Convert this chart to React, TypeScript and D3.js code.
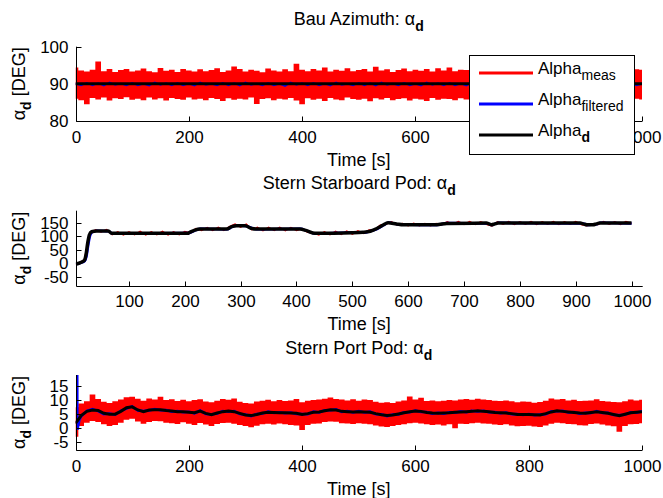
import React from 'react';
import * as d3 from 'd3';

const W = 663;
const H = 498;
const FONT = '"Liberation Sans", Arial, Helvetica, sans-serif';

// sample times (s)
const STEP_TIMES = d3.range(0, 1001, 10);

// ---------- Bau Azimuth ----------
const bauXTicks = [0, 200, 400, 600, 800, 1000];
const bauYTicks = [80, 90, 100];
const bauMeasHi = [
  94.4, 93.6, 93.3, 93.8, 96.0, 93.4, 94.0, 93.2, 93.7, 94.0,
  93.3, 93.6, 94.1, 93.4, 93.1, 94.3, 93.5, 93.8, 93.2, 94.0,
  93.6, 93.3, 93.9, 93.4, 93.7, 94.2, 93.2, 93.6, 94.7, 94.0,
  93.3, 93.8, 93.5, 93.1, 94.1, 93.6, 93.3, 93.9, 93.4, 95.4,
  93.8, 93.4, 94.0, 93.6, 94.4, 93.3, 93.8, 93.5, 94.2, 93.4,
  93.7, 94.0, 93.3, 94.6, 93.6, 93.9, 93.2, 93.7, 94.1, 93.4,
  93.8, 93.5, 94.0, 93.3, 94.2, 93.6, 94.4, 93.4, 93.8, 93.7,
  94.1, 93.5, 93.9, 93.3, 93.8, 93.6, 94.0, 93.4, 94.2, 93.5,
  93.8, 93.3, 94.1, 93.6, 93.9, 93.4, 94.3, 93.7, 94.0, 93.5,
  93.8, 93.4, 94.1, 93.6, 93.9, 93.3, 94.0, 93.7, 94.4, 93.9, 93.8,
];
const bauMeasLo = [
  86.0, 85.6, 84.5, 86.2, 85.8, 86.3, 85.5, 86.1, 85.9, 86.4,
  85.7, 86.0, 85.6, 86.3, 85.8, 86.1, 85.5, 86.2, 85.9, 85.7,
  86.3, 85.8, 86.0, 85.6, 86.2, 85.9, 85.4, 86.1, 85.7, 86.0,
  85.8, 86.3, 84.6, 85.9, 86.1, 85.6, 86.0, 85.8, 86.2, 85.5,
  84.5, 86.1, 85.7, 86.0, 85.4, 86.2, 85.8, 85.6, 86.3, 85.9,
  85.7, 86.0, 85.3, 86.1, 85.8, 86.2, 85.6, 85.9, 86.1, 85.5,
  86.0, 85.8, 85.4, 86.2, 85.7, 86.0, 85.9, 85.6, 86.1, 85.8,
  86.2, 85.6, 85.9, 86.1, 85.5, 86.0, 85.7, 86.3, 85.8, 85.6,
  86.1, 85.9, 85.5, 86.2, 85.8, 86.0, 85.6, 86.3, 85.7, 85.9,
  86.1, 85.5, 86.0, 85.8, 86.2, 85.6, 85.9, 86.1, 85.7, 86.0, 85.8,
];
const bauFilt = [
  90.0, 89.6, 90.3, 89.6, 90.2, 89.5, 90.4, 89.7, 90.1, 89.6,
  90.3, 89.6, 90.0, 89.5, 90.4, 89.7, 90.2, 89.6, 90.3, 89.6,
  90.1, 89.5, 90.4, 89.7, 90.0, 89.6, 90.3, 89.6, 90.2, 89.5,
  90.4, 89.7, 90.1, 89.6, 90.3, 89.6, 90.0, 89.4, 90.4, 89.7,
  90.2, 89.6, 90.3, 89.6, 90.1, 89.5, 90.4, 89.7, 90.0, 89.6,
  90.3, 89.6, 90.2, 89.5, 90.4, 89.7, 90.1, 89.6, 90.3, 89.6,
  90.0, 89.5, 90.4, 89.7, 90.2, 89.6, 90.3, 89.6, 90.1, 89.5,
  90.4, 89.7, 90.0, 89.6, 90.3, 89.6, 90.2, 89.5, 90.4, 89.7,
  90.1, 89.6, 90.3, 89.6, 90.0, 89.5, 90.4, 89.7, 90.2, 89.6,
  90.3, 89.6, 90.1, 89.5, 90.4, 89.7, 90.0, 89.6, 90.3, 89.6, 90.0,
];
const bauDesT = [0, 1000];
const bauDesV = [90, 90];

// ---------- Stern Starboard Pod ----------
const sbXTicks = [100, 200, 300, 400, 500, 600, 700, 800, 900, 1000];
const sbYTicks = [-50, 0, 50, 100, 150];
const sbDesT = [5, 12, 20, 23, 26, 29, 33, 42, 63, 69, 205, 209, 218, 227, 275, 284, 293, 308, 320, 329, 406, 418, 433, 500, 519, 532, 544, 555, 564, 579, 591, 651, 669, 740, 745, 749, 755, 761, 908, 914, 920, 931, 937, 943, 1000];
const sbDesV = [-3, 2, 10, 31, 74, 105, 117, 120, 120, 111, 111, 115, 123, 127, 127, 136, 139, 139, 129, 127, 127, 121, 111, 113, 115, 119, 129, 142, 150, 146, 143, 143, 148, 149, 146, 143, 146, 149, 149, 146, 143, 143, 146, 149, 149];
const sbFiltT = [5, 13, 21, 24, 27, 30, 34, 43, 64, 70, 206, 210, 219, 228, 276, 285, 294, 309, 321, 330, 407, 419, 434, 501, 520, 533, 545, 556, 565, 580, 592, 652, 670, 741, 746, 750, 756, 762, 909, 915, 921, 932, 938, 944, 1000];
const sbFiltV = [-4, 1, 8, 26, 66, 100, 115, 121, 119, 110, 112, 114, 122, 128, 126, 135, 140, 138, 130, 126, 128, 120, 110, 114, 114, 120, 128, 141, 151, 145, 144, 142, 149, 148, 145, 142, 147, 150, 148, 147, 142, 144, 145, 150, 148];
const sbMeasT = [5, ...STEP_TIMES.slice(1)];
const sbMeasV = [
  -6, 0, 13, 108, 124, 116, 125, 106, 117, 105,
  117, 106, 118, 105, 117, 106, 118, 105, 117, 106,
  118, 112, 129, 122, 132, 122, 133, 122, 136, 145,
  134, 145, 125, 133, 121, 133, 122, 133, 121, 132,
  122, 128, 115, 113, 105, 117, 106, 118, 107, 119,
  108, 120, 111, 123, 123, 141, 145, 154, 142, 147,
  139, 148, 139, 147, 139, 147, 143, 154, 145, 155,
  144, 155, 144, 154, 145, 139, 154, 145, 155, 144,
  154, 145, 155, 144, 154, 145, 155, 144, 154, 145,
  155, 144, 139, 147, 144, 155, 145, 154, 144, 155, 148,
];

// ---------- Stern Port Pod ----------
const portXTicks = [0, 200, 400, 600, 800, 1000];
const portYTicks = [-5, 0, 5, 10, 15];
const portDesV = [
  1.7, 4.5, 6.0, 6.5, 6.3, 5.3, 5.0, 5.0, 6.0, 7.3,
  7.6, 6.5, 5.9, 6.5, 6.6, 6.6, 6.3, 6.1, 5.9, 5.9,
  5.7, 5.5, 6.1, 5.3, 4.8, 5.4, 5.9, 6.1, 5.9, 5.3,
  4.7, 4.5, 4.9, 5.4, 5.7, 5.6, 5.5, 5.5, 5.4, 5.3,
  4.9, 5.2, 5.7, 5.8, 6.2, 6.6, 6.5, 6.0, 5.9, 5.8,
  5.9, 5.8, 5.7, 5.2, 4.8, 4.5, 4.7, 5.1, 5.5, 5.9,
  6.1, 6.0, 5.6, 5.4, 5.3, 5.4, 5.5, 5.7, 5.8, 5.9,
  6.0, 6.2, 6.0, 5.9, 5.6, 5.5, 5.4, 5.2, 4.9, 4.9,
  4.9, 4.8, 4.7, 5.2, 5.8, 6.2, 6.0, 5.8, 5.6, 5.4,
  5.3, 5.6, 5.9, 5.6, 5.3, 4.9, 4.5, 5.0, 5.5, 5.7, 5.9,
];
const portFiltT = [3, 3.2, 3.4, 7, ...STEP_TIMES.slice(1)];
const portFiltV = [
  30, 10, -0.5, 3.0,
  4.2, 6.2, 6.8, 6.1, 5.0, 5.2, 4.8, 6.2, 7.0,
  7.8, 6.3, 6.1, 6.3, 6.8, 6.4, 6.5, 5.9, 6.1, 5.7,
  5.9, 5.3, 6.3, 5.1, 5.0, 5.2, 6.1, 5.9, 6.1, 5.1,
  4.9, 4.3, 5.1, 5.2, 5.9, 5.4, 5.7, 5.3, 5.6, 5.1,
  5.1, 5.0, 5.9, 5.6, 6.4, 6.4, 6.7, 5.8, 6.1, 5.6,
  6.1, 5.6, 5.9, 5.0, 5.0, 4.3, 4.9, 4.9, 5.7, 5.7,
  6.3, 5.8, 5.8, 5.2, 5.5, 5.2, 5.7, 5.5, 6.0, 5.7,
  6.2, 6.0, 6.2, 5.7, 5.8, 5.3, 5.6, 5.0, 5.1, 4.7,
  5.1, 4.6, 4.9, 5.0, 6.0, 6.0, 6.2, 5.6, 5.8, 5.2,
  5.5, 5.4, 6.1, 5.4, 5.5, 4.7, 4.7, 4.8, 5.7, 5.5, 6.1,
];
const portMeasHi = [
  7.5, 8.8, 9.6, 12.0, 10.4, 9.4, 9.0, 9.6, 10.2, 11.0,
  11.2, 10.5, 9.8, 10.6, 10.2, 11.2, 10.0, 10.3, 9.7, 10.1,
  9.6, 10.0, 10.3, 9.5, 9.2, 9.8, 10.4, 10.1, 10.6, 9.4,
  9.0, 8.8, 9.5, 9.8, 10.1, 9.6, 10.0, 9.7, 9.9, 10.4,
  9.2, 9.8, 10.0, 10.2, 10.5, 10.9, 10.4, 10.2, 9.9, 10.3,
  9.8, 10.2, 10.0, 9.4, 9.1, 9.2, 9.0, 9.5, 9.9, 11.3,
  10.2, 10.8, 9.7, 9.9, 9.6, 9.8, 10.0, 9.9, 10.2, 10.4,
  10.1, 10.5, 10.2, 10.0, 9.8, 9.7, 9.9, 9.6, 9.2, 9.5,
  9.4, 9.1, 9.3, 9.8, 10.6, 10.2, 10.4, 9.9, 10.1, 9.7,
  9.8, 9.9, 10.3, 9.7, 9.5, 9.3, 9.2, 9.6, 10.2, 9.9, 10.1,
];
const portMeasLo = [
  -3.0, 0.8, 2.0, 2.6, 2.2, 1.4, 0.8, 1.2, 2.0, 3.0,
  3.4, 2.4, 1.6, 2.2, 2.6, 2.5, 2.0, 1.8, 1.5, 2.1,
  1.6, 1.2, 1.9, 1.3, 0.8, 1.5, 1.9, 2.0, 1.6, 1.2,
  0.8, 0.4, 0.9, 1.4, 1.6, 1.3, 1.7, 1.4, 1.2, 1.0,
  -0.6, 1.2, 1.6, 1.7, 2.2, 2.4, 2.3, 1.8, 1.7, 1.5,
  1.8, 1.6, 1.4, 1.0, 0.6, 0.5, 0.8, 1.2, 1.4, 1.8,
  2.0, 1.7, 1.4, 1.2, 1.3, 1.0, 1.4, 0.0, 1.6, 1.5,
  1.8, 2.0, 1.7, 1.6, 1.3, 1.2, 1.4, 1.0, 0.7, 0.8,
  0.9, 0.6, 0.5, 1.0, 1.6, 2.0, 1.8, 1.5, 1.4, 1.1,
  1.0, 1.5, 1.7, 1.3, 1.0, 0.7, -1.2, 0.8, 1.4, 1.5, 1.8,
];

const legendItems = [
  { base: 'Alpha', sub: 'meas', color: '#ff0000', bold: false },
  { base: 'Alpha', sub: 'filtered', color: '#0000ff', bold: false },
  { base: 'Alpha', sub: 'd', color: '#000000', bold: true },
];

const RED = '#ff0000';
const BLUE = '#0000ff';
const BLACK = '#000000';

type Cfg = {
  id: string;
  title: string;
  xDomain: [number, number];
  xRange: [number, number];
  yDomain: [number, number];
  yRange: [number, number];
  xTicks: number[];
  yTicks: number[];
};

function Axes({ cfg, children }: { cfg: Cfg; children: (x: any, y: any) => React.ReactNode }) {
  const x = d3.scaleLinear().domain(cfg.xDomain).range(cfg.xRange);
  const y = d3.scaleLinear().domain(cfg.yDomain).range(cfg.yRange);
  const [x0, x1] = cfg.xRange;
  const [yb, yt] = cfg.yRange;
  const ax = Math.round(x0) + 0.5;
  const ay = Math.round(yb) + 0.5;
  const cx = (x0 + x1) / 2;
  const cy = (yb + yt) / 2;
  return (
    <g>
      <defs>
        <clipPath id={`clip-${cfg.id}`}>
          <rect x={x0} y={yt} width={x1 - x0} height={yb - yt} />
        </clipPath>
      </defs>
      <g clipPath={`url(#clip-${cfg.id})`}>{children(x, y)}</g>
      <line x1={ax} x2={ax} y1={yt} y2={ay} stroke="#000" strokeWidth={1} />
      <line x1={ax} x2={x1} y1={ay} y2={ay} stroke="#000" strokeWidth={1} />
      {cfg.xTicks.map((t) => {
        const px = Math.round(x(t)) + 0.5;
        return (
          <g key={`xt${t}`}>
            <line x1={px} x2={px} y1={ay} y2={ay - 5} stroke="#000" strokeWidth={1} />
            <text x={px} y={yb + 21.5} fontSize={17} textAnchor="middle" fontFamily={FONT}>{t}</text>
          </g>
        );
      })}
      {cfg.yTicks.map((t) => {
        const py = Math.round(y(t)) + 0.5;
        return (
          <g key={`yt${t}`}>
            <line x1={ax} x2={ax + 5} y1={py} y2={py} stroke="#000" strokeWidth={1} />
            <text x={68.5} y={y(t) + 6} fontSize={17} textAnchor="end" fontFamily={FONT}>{t}</text>
          </g>
        );
      })}
      <text x={cx} y={yt - 21.5} fontSize={18} textAnchor="middle" fontFamily={FONT}>
        {cfg.title}
        <tspan>α</tspan>
        <tspan dy={6} fontSize={14} fontWeight="bold">d</tspan>
      </text>
      <text x={cx} y={yb + 44.5} fontSize={18} textAnchor="middle" fontFamily={FONT}>Time [s]</text>
      <text transform={`translate(25,${cy}) rotate(-90)`} fontSize={18} textAnchor="middle" fontFamily={FONT}>
        <tspan>α</tspan>
        <tspan dy={6} fontSize={14} fontWeight="bold">d</tspan>
        <tspan dy={-6}> [DEG]</tspan>
      </text>
    </g>
  );
}

const bauCfg: Cfg = {
  id: 'bau', title: 'Bau Azimuth: ',
  xDomain: [0, 1000], xRange: [75.5, 642],
  yDomain: [80, 100], yRange: [121, 46.7],
  xTicks: bauXTicks, yTicks: bauYTicks,
};
const sbCfg: Cfg = {
  id: 'sb', title: 'Stern Starboard Pod: ',
  xDomain: [4.6, 1020], xRange: [75.7, 642.7],
  yDomain: [-83, 195], yRange: [285.7, 210.7],
  xTicks: sbXTicks, yTicks: sbYTicks,
};
const portCfg: Cfg = {
  id: 'port', title: 'Stern Port Pod: ',
  xDomain: [0, 1000], xRange: [75.5, 642],
  yDomain: [-7.7, 18.9], yRange: [450, 375],
  xTicks: portXTicks, yTicks: portYTicks,
};

function lineXY(x: any, y: any, ts: number[], vs: number[], curve: any = d3.curveLinear) {
  return d3.line<number>().x((_, i) => x(ts[i])).y((v) => y(v)).curve(curve)(vs) || '';
}
function band(x: any, y: any, ts: number[], lo: number[], hi: number[]) {
  return d3.area<number>().x((_, i) => x(ts[i])).y0((v) => y(v)).y1((_, i) => y(hi[i])).curve(d3.curveStep)(lo) || '';
}

function Legend() {
  const bx = 469.5, by = 55.5, bw = 165, bh = 99;
  return (
    <g>
      <rect x={bx} y={by} width={bw} height={bh} fill="#fff" stroke="#000" strokeWidth={1} />
      {legendItems.map((it, i) => {
        const ly = 73 + i * 31;
        return (
          <g key={it.sub}>
            <line x1={479} x2={533} y1={ly} y2={ly} stroke={it.color} strokeWidth={3} />
            <text x={538} y={ly + 1} fontSize={17} fontFamily={FONT}>
              {it.base}
              <tspan dy={6} fontSize={14} fontWeight={it.bold ? 'bold' : 'normal'}>{it.sub}</tspan>
            </text>
          </g>
        );
      })}
    </g>
  );
}

export default function App() {
  return (
    <svg width={W} height={H} style={{ position: 'absolute', left: 0, top: 0, background: '#fff' }}>
      <rect x={0} y={0} width={W} height={H} fill="#fff" />
      <Axes cfg={bauCfg}>
        {(x, y) => (
          <g>
            <path d={band(x, y, STEP_TIMES, bauMeasLo, bauMeasHi)} fill={RED} />
            <path d={lineXY(x, y, STEP_TIMES, bauFilt)} fill="none" stroke={BLUE} strokeWidth={1.5} />
            <path d={lineXY(x, y, bauDesT, bauDesV)} fill="none" stroke={BLACK} strokeWidth={3} />
          </g>
        )}
      </Axes>
      <Legend />
      <Axes cfg={sbCfg}>
        {(x, y) => (
          <g>
            <path d={lineXY(x, y, sbMeasT, sbMeasV)} fill="none" stroke={RED} strokeWidth={1.5} />
            <path d={lineXY(x, y, sbFiltT, sbFiltV, d3.curveMonotoneX)} fill="none" stroke={BLUE} strokeWidth={2.5} />
            <path d={lineXY(x, y, sbDesT, sbDesV, d3.curveMonotoneX)} fill="none" stroke={BLACK} strokeWidth={3.5} />
          </g>
        )}
      </Axes>
      <Axes cfg={portCfg}>
        {(x, y) => (
          <g>
            <path d={band(x, y, STEP_TIMES, portMeasLo, portMeasHi)} fill={RED} />
            <path d={lineXY(x, y, portFiltT, portFiltV)} fill="none" stroke={BLUE} strokeWidth={2.5} />
            <path d={lineXY(x, y, STEP_TIMES, portDesV)} fill="none" stroke={BLACK} strokeWidth={3} />
          </g>
        )}
      </Axes>
    </svg>
  );
}
